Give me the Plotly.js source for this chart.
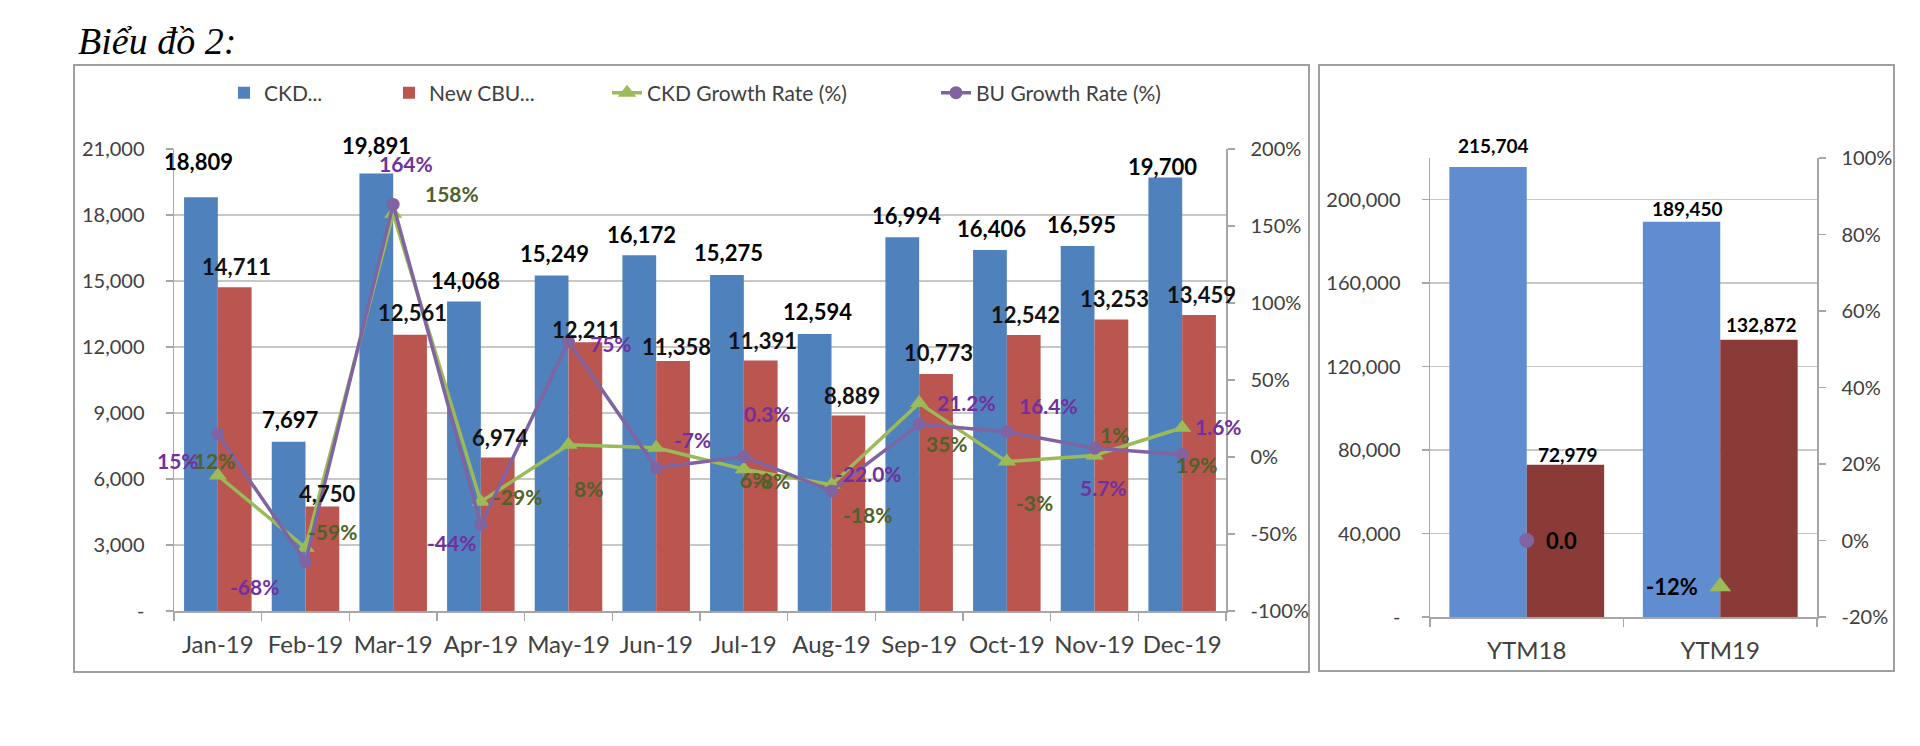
<!DOCTYPE html>
<html>
<head>
<meta charset="utf-8">
<script src="https://cdn.plot.ly/plotly-3.0.1.min.js"></script>
<style>
html,body{margin:0;padding:0;background:#ffffff;}
#chart{width:1920px;height:746px;}
</style>
</head>
<body>
<div id="chart"></div>
<script>
// ---------------- DATA ----------------
const months = ['Jan-19','Feb-19','Mar-19','Apr-19','May-19','Jun-19','Jul-19','Aug-19','Sep-19','Oct-19','Nov-19','Dec-19'];
const ckdUnits = [18809, 7697, 19891, 14068, 15249, 16172, 15275, 12594, 16994, 16406, 16595, 19700];
const cbuUnits = [14711, 4750, 12561, 6974, 12211, 11358, 11391, 8889, 10773, 12542, 13253, 13459];
const ckdGrowth = [-12, -59, 158, -29, 8, 6, -8, -18, 35, -3, 1, 19];
const buGrowth = [15, -68, 164, -44, 75, -7, 0.3, -22.0, 21.2, 16.4, 5.7, 1.6];
const buGrowthText = ['15%','-68%','164%','-44%','75%','-7%','0.3%','-22.0%','21.2%','16.4%','5.7%','1.6%'];

const ytdCats = ['YTM18','YTM19'];
const ytdCkd = [215704, 189450];
const ytdCbu = [72979, 132872];
const ytdBuGrowth = [0.0, null];
const ytdCkdGrowth = [null, -12];

const leftUnitTicks = [0, 3000, 6000, 9000, 12000, 15000, 18000, 21000];
const leftPctTicks = [-100, -50, 0, 50, 100, 150, 200];
const rightUnitTicks = [0, 40000, 80000, 120000, 160000, 200000];
const rightPctTicks = [-20, 0, 20, 40, 60, 80, 100];

const seriesNames = ['CKD...', 'New CBU...', 'CKD Growth Rate (%)', 'BU Growth Rate (%)'];

// ---------------- STYLE (label offsets in px) ----------------
const blueLblDx = [-19,-15.5,-17,-15,-14.5,-15,-15,-14.5,-13,-15,-13.5,-20];
const blueLblDy = [36,21.7,28,21.5,22.5,21,22,22,22,22,21,11.6];
const redLblDx  = [19,21.5,19,19,18,20,19,20.5,19,19,19.5,19];
const redLblDy  = [20.4,13.5,21.7,19.6,12.4,15,20.4,20.4,21,21,21.4,20];
const grnLblDx  = [-7,26.5,59,37,19.5,98,28,35.5,28,28,19.5,15];
const grnLblDy  = [14.5,16,19.7,4.7,-44,-32,-10.7,-30,-40,-41,20.5,-37];
const purLblDx  = [-40,-51.5,13,-29,42,36,24,36.5,47,42,8.5,36];
const purLblDy  = [-27,-25,41.4,-18,-1.5,28,43.5,17,21.4,26.7,-39,28.5];
const ytdBlueDx = [-33,-33], ytdBlueDy = [21.5,13];
const ytdRedDx  = [41,41],   ytdRedDy  = [10,15];

const FONT = 'Lato, "Open Sans", sans-serif';
const C = {
  blue:'#4F81BD', red:'#BA5550', green:'#9BBB59', purple:'#8064A2',
  blue2:'#5F8DD0', red2:'#8A3B38', grnTxt:'#4F6228', purTxt:'#7030A0',
  axis:'#A6A6A6', grid:'#C8C8C8', tick:'#404040'
};
const fmt = v => v === 0 ? '-' : v.toLocaleString('en-US');
const W = 0.385, W2 = 0.4;

const traces = [
  {type:'bar', name:seriesNames[0], x:months, y:ckdUnits, xaxis:'x', yaxis:'y',
   width:W, offset:-W, marker:{color:C.blue}, legend:'legend'},
  {type:'bar', name:seriesNames[1], x:months, y:cbuUnits, xaxis:'x', yaxis:'y',
   width:W, offset:0, marker:{color:C.red}, legend:'legend2'},
  {type:'scatter', mode:'lines+markers', name:seriesNames[2], x:months, y:ckdGrowth, xaxis:'x', yaxis:'y2',
   line:{color:C.green, width:3.5}, marker:{symbol:'triangle-up', size:16, color:C.green}, legend:'legend3'},
  {type:'scatter', mode:'lines+markers', name:seriesNames[3], x:months, y:buGrowth, xaxis:'x', yaxis:'y2',
   line:{color:C.purple, width:3.5}, marker:{symbol:'circle', size:13, color:C.purple}, legend:'legend4'},
  {type:'bar', name:seriesNames[0], x:ytdCats, y:ytdCkd, xaxis:'x2', yaxis:'y3',
   width:W2, offset:-W2, marker:{color:C.blue2}, showlegend:false},
  {type:'bar', name:seriesNames[1], x:ytdCats, y:ytdCbu, xaxis:'x2', yaxis:'y3',
   width:W2, offset:0, marker:{color:C.red2}, showlegend:false},
  {type:'scatter', mode:'markers', name:seriesNames[3], x:ytdCats, y:ytdBuGrowth, xaxis:'x2', yaxis:'y4',
   marker:{symbol:'circle', size:15, color:C.purple}, showlegend:false},
  {type:'scatter', mode:'markers', name:seriesNames[2], x:ytdCats, y:ytdCkdGrowth, xaxis:'x2', yaxis:'y4',
   marker:{symbol:'triangle-up', size:19, color:C.green}, showlegend:false}
];

// ---------------- ANNOTATIONS (data labels) ----------------
const ann = [];
function lbl(x, y, xref, yref, text, dx, dy, size, color){
  ann.push({x:x, y:y, xref:xref, yref:yref, text:text, showarrow:false,
    xanchor:'center', yanchor:'middle', xshift:dx, yshift:dy,
    font:{family:FONT, size:size, color:color, weight:700}});
}
months.forEach((m,i)=>{
  lbl(m, ckdUnits[i], 'x','y', fmt(ckdUnits[i]), blueLblDx[i], blueLblDy[i], 22, '#000000');
  lbl(m, cbuUnits[i], 'x','y', fmt(cbuUnits[i]), redLblDx[i], redLblDy[i], 22, '#111111');
  lbl(m, ckdGrowth[i], 'x','y2', ckdGrowth[i] + '%', grnLblDx[i], grnLblDy[i], 21, C.grnTxt);
  lbl(m, buGrowth[i], 'x','y2', buGrowthText[i], purLblDx[i], purLblDy[i], 21, C.purTxt);
});
ytdCats.forEach((c,i)=>{
  lbl(c, ytdCkd[i], 'x2','y3', fmt(ytdCkd[i]), ytdBlueDx[i], ytdBlueDy[i], 19, '#000000');
  lbl(c, ytdCbu[i], 'x2','y3', fmt(ytdCbu[i]), ytdRedDx[i], ytdRedDy[i], 19, '#000000');
  if (ytdBuGrowth[i] !== null) lbl(c, ytdBuGrowth[i], 'x2','y4', ytdBuGrowth[i].toFixed(1), 35, 0, 22, '#000000');
  if (ytdCkdGrowth[i] !== null) lbl(c, ytdCkdGrowth[i], 'x2','y4', ytdCkdGrowth[i] + '%', -48, 0, 22, '#000000');
});
// title
ann.push({xref:'paper', yref:'paper', x:76/1920, y:1-41/746, xanchor:'left', yanchor:'middle',
  showarrow:false, text:'Biểu đồ 2:',
  font:{family:'"Liberation Serif", "DejaVu Serif", serif', size:38, style:'italic', color:'#000000'}});

// ---------------- LAYOUT ----------------
const tickFont = {family:FONT, size:20, color:C.tick};
const catFont = {family:FONT, size:24, color:C.tick};
function catAxis(domain, anchor, n){
  return {domain:domain, anchor:anchor, type:'category', range:[-0.5, n-0.5], autorange:false,
    tickson:'boundaries', ticks:'outside', tickangle:0,
    ticklen:8, tickwidth:1.5, tickcolor:C.axis, showline:true, linecolor:C.axis, linewidth:1.5,
    showgrid:false, zeroline:false, tickfont:catFont, ticklabelstandoff:12, fixedrange:true};
}
function valAxis(domain, anchor, range, vals, texts, grid){
  return {domain:domain, anchor:anchor, range:range, autorange:false, tickmode:'array', tickvals:vals, ticktext:texts,
    ticks:'outside', ticklen:7, tickwidth:1.5, tickcolor:C.axis, showline:true, linecolor:C.axis, linewidth:1.5,
    showgrid:grid, gridcolor:C.grid, gridwidth:1.5, zeroline:false, tickfont:tickFont, fixedrange:true};
}
const legBase = {orientation:'h', yanchor:'middle', y:1-93/746, xanchor:'left',
  font:{family:FONT, size:21, color:C.tick}, bgcolor:'rgba(0,0,0,0)', borderwidth:0};

const LX = [174/1920, 1226/1920], LY = [1-611/746, 1-149/746];
const RX = [1430/1920, 1817/1920], RY = [1-617/746, 1-158/746];

const layout = {
  width:1920, height:746, margin:{l:0,r:0,t:0,b:0},
  paper_bgcolor:'#ffffff', plot_bgcolor:'rgba(0,0,0,0)',
  barmode:'overlay', showlegend:true,
  xaxis: catAxis(LX, 'y', months.length),
  yaxis: Object.assign(valAxis(LY, 'x', [0,21000], leftUnitTicks, leftUnitTicks.map(fmt), true), {ticklabelstandoff:17}),
  yaxis2: Object.assign(valAxis(LY, 'x', [-100,200], leftPctTicks, leftPctTicks.map(v=>v+'%'), false),
           {overlaying:'y', side:'right', ticklabelstandoff:12}),
  xaxis2: catAxis(RX, 'y3', ytdCats.length),
  yaxis3: Object.assign(valAxis(RY, 'x2', [0,220000], rightUnitTicks, rightUnitTicks.map(fmt), true), {ticklabelstandoff:17}),
  yaxis4: Object.assign(valAxis(RY, 'x2', [-20,100], rightPctTicks, rightPctTicks.map(v=>v+'%'), false),
           {overlaying:'y3', side:'right', ticklabelstandoff:12}),
  legend:  Object.assign({}, legBase, {x:224/1920}),
  legend2: Object.assign({}, legBase, {x:389/1920}),
  legend3: Object.assign({}, legBase, {x:607/1920}),
  legend4: Object.assign({}, legBase, {x:936/1920}),
  annotations: ann,
  shapes: [
    {type:'rect', xref:'paper', yref:'paper', x0:74/1920, x1:1309/1920, y0:1-672/746, y1:1-65/746,
     line:{color:'#A0A0A0', width:2}, fillcolor:'rgba(0,0,0,0)', layer:'below'},
    {type:'rect', xref:'paper', yref:'paper', x0:1319/1920, x1:1894/1920, y0:1-671/746, y1:1-65/746,
     line:{color:'#A0A0A0', width:2}, fillcolor:'rgba(0,0,0,0)', layer:'below'}
  ],
  hovermode:false
};

Plotly.newPlot('chart', traces, layout, {displayModeBar:false, staticPlot:true});
</script>
</body>
</html>
